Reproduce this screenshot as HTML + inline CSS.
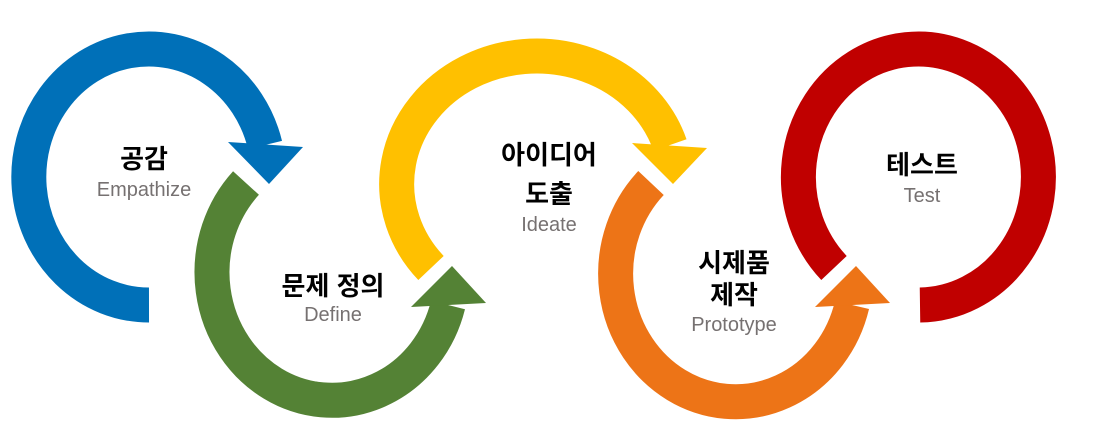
<!DOCTYPE html>
<html><head><meta charset="utf-8"><style>
html,body{margin:0;padding:0;background:#fff;}
svg{display:block}
.k{font-family:"Liberation Sans","Noto Sans CJK KR",sans-serif;font-weight:bold;font-size:26px;fill:#000;text-anchor:middle}
.e{font-family:"Liberation Sans","Noto Sans CJK KR",sans-serif;font-size:20px;fill:#767171;text-anchor:middle}
</style></head><body>
<svg width="1112" height="447" viewBox="0 0 1112 447" xmlns="http://www.w3.org/2000/svg">
<g fill="none" stroke-width="35" stroke-linecap="butt">
<path d="M149,305 A120,128 0 1 1 265,145" stroke="#0070B8"/>
<path d="M246,183 A120,128 0 1 0 448,305" stroke="#548235"/>
<path d="M431,268 A140,128 0 1 1 670,145" stroke="#FFC000"/>
<path d="M651,183 A120,128 0 1 0 852,305" stroke="#ED7417"/>
<path d="M834,268 A120,128 0 1 1 920,305" stroke="#C00000"/>
</g>
<polygon points="228,142 303,147 269,184" fill="#0070B8"/>
<polygon points="411,307 486,303 452,266" fill="#548235"/>
<polygon points="632,143 707,148 673,184" fill="#FFC000"/>
<polygon points="815,307 890,303 856,266" fill="#ED7417"/>
<text class="k" x="144" y="168">공감</text>
<text class="e" x="144" y="196">Empathize</text>
<text class="k" x="333" y="295">문제 정의</text>
<text class="e" x="333" y="321">Define</text>
<text class="k" x="549" y="164">아이디어</text>
<text class="k" x="549" y="203">도출</text>
<text class="e" x="549" y="231">Ideate</text>
<text class="k" x="734" y="272">시제품</text>
<text class="k" x="734" y="304">제작</text>
<text class="e" x="734" y="331">Prototype</text>
<text class="k" x="922" y="174">테스트</text>
<text class="e" x="922" y="202">Test</text>
</svg>
</body></html>
